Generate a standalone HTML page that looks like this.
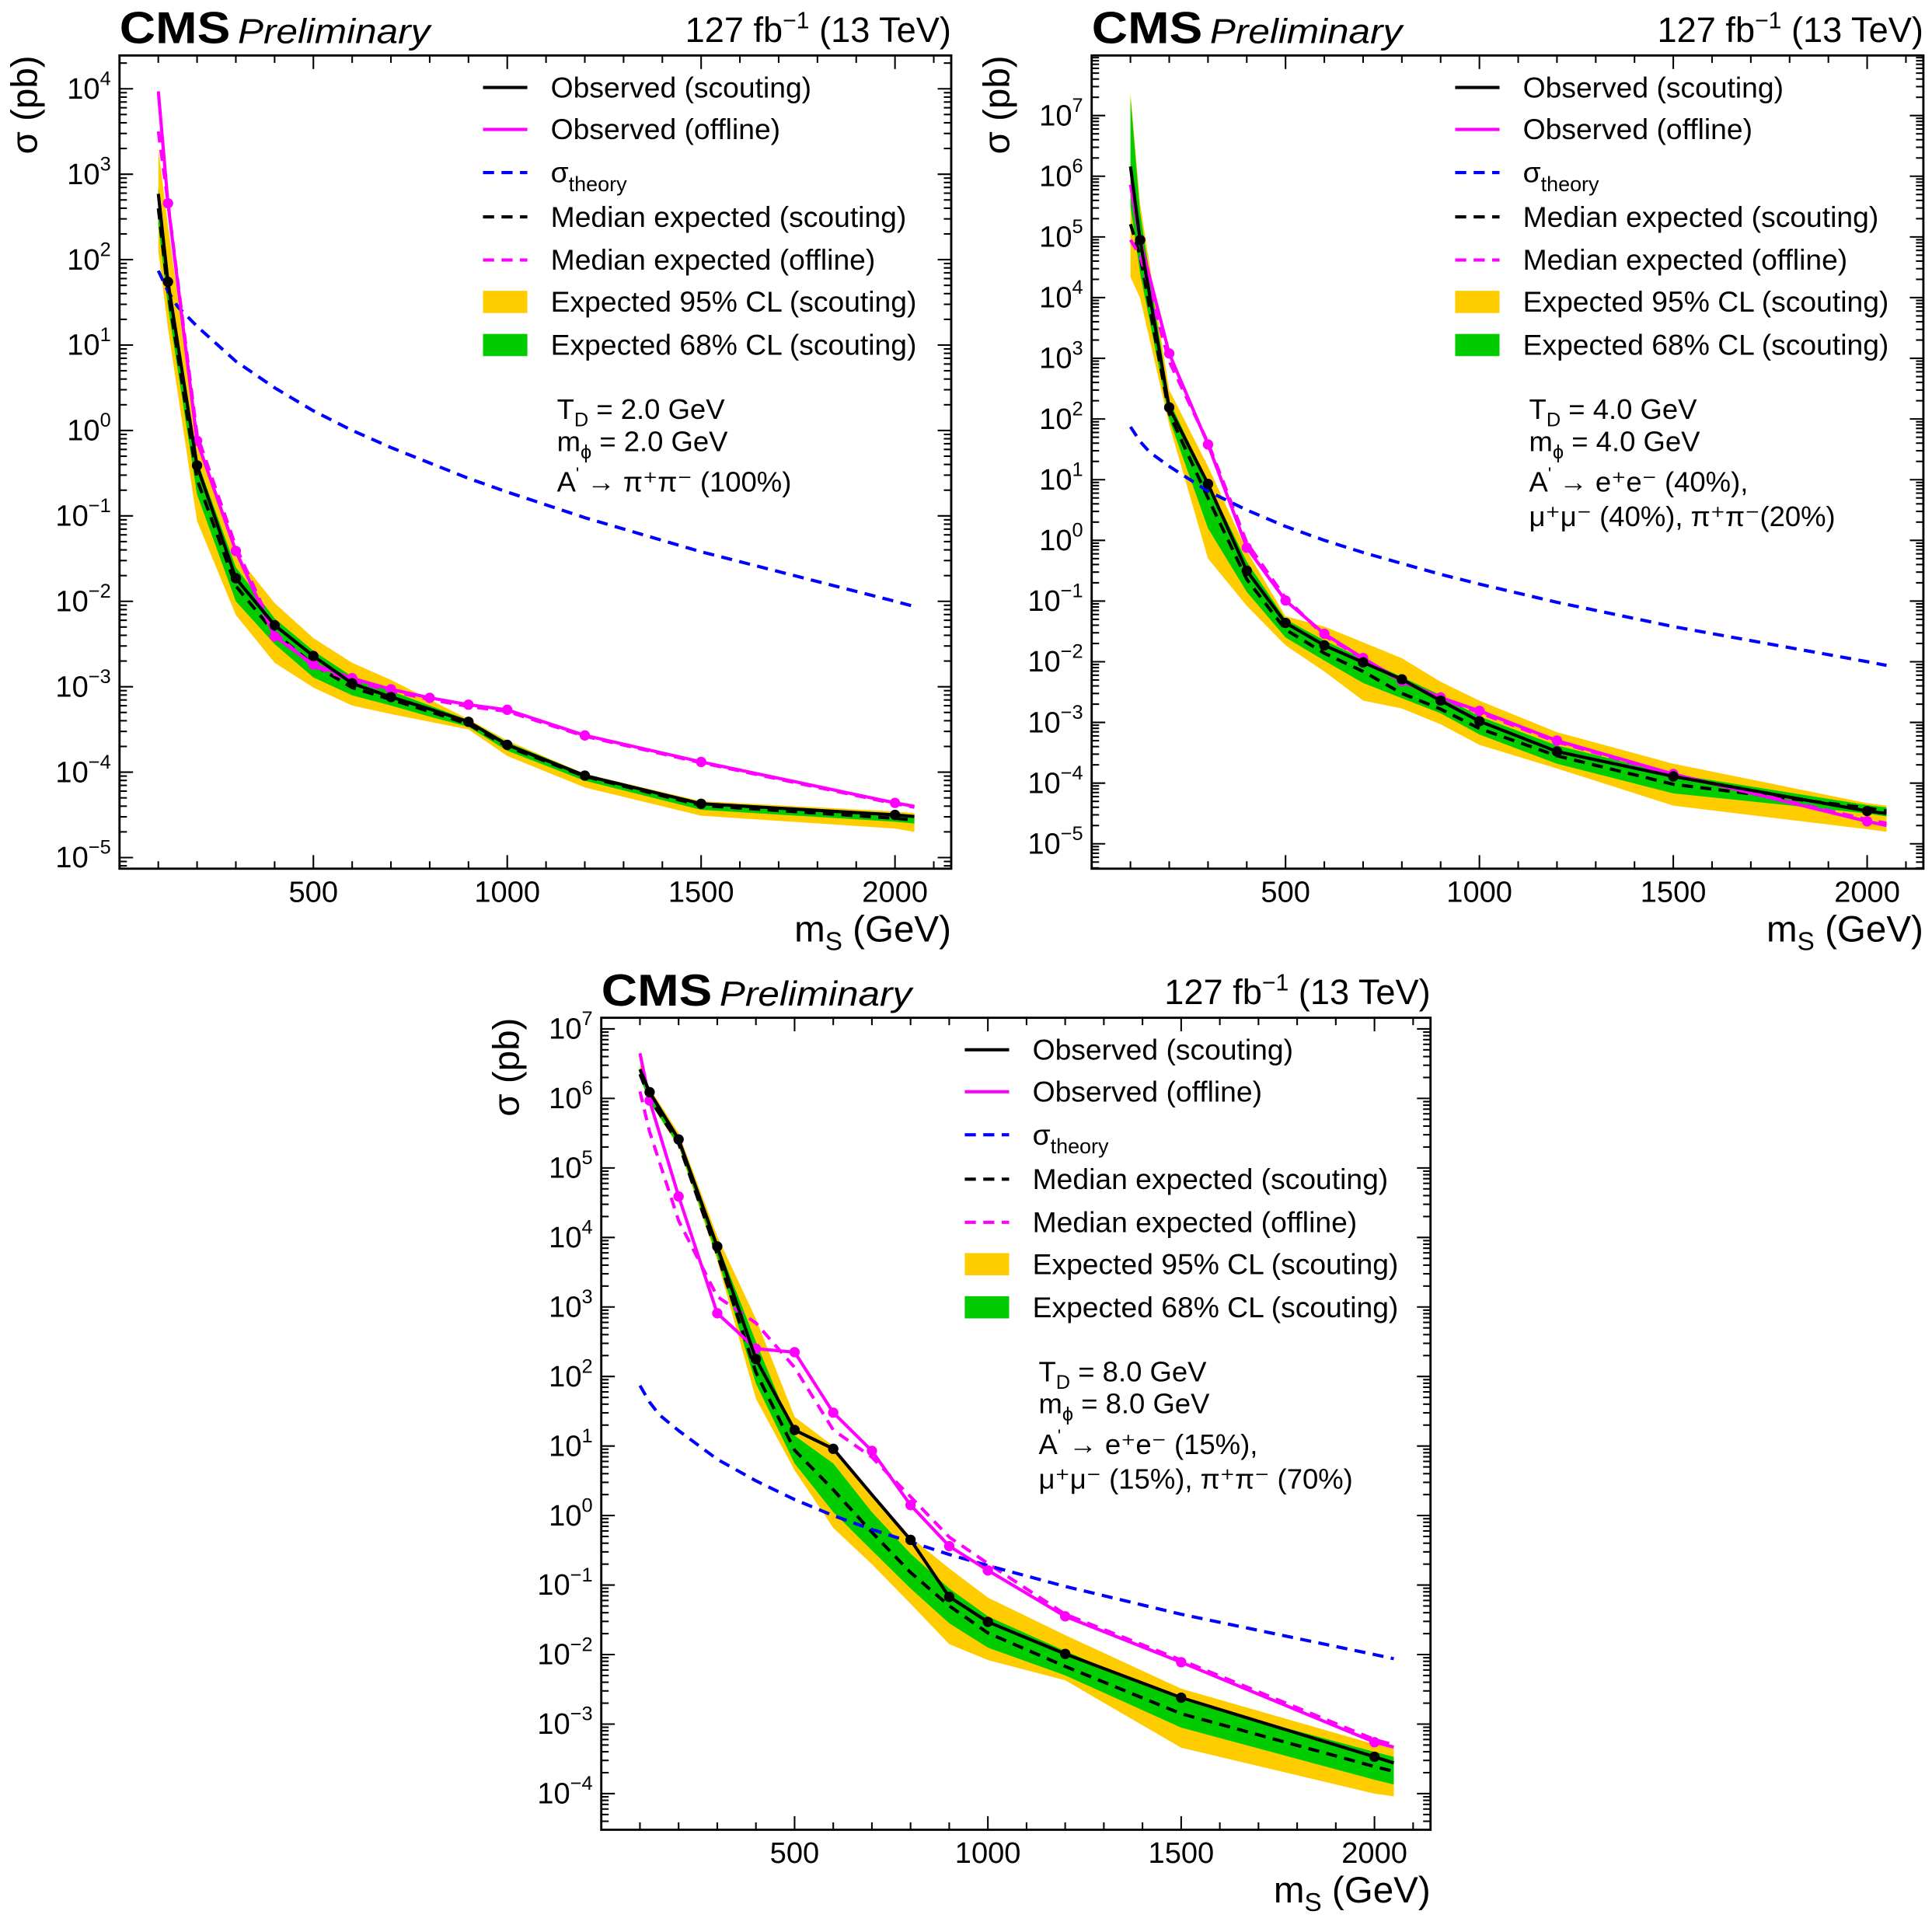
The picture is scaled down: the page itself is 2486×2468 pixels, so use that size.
<!DOCTYPE html>
<html><head><meta charset="utf-8">
<style>
html,body{margin:0;padding:0;background:#fff;}
svg{display:block;font-family:"Liberation Sans",sans-serif;}
</style></head>
<body>
<svg id="fig" width="2486" height="2468" viewBox="0 0 1568 1556.6" xmlns="http://www.w3.org/2000/svg"></svg>
<script>
// masses (GeV)
const masses = [100,125,200,300,400,500,600,700,800,900,1000,1200,1500,2000,2050];
// theory cross section (log10 pb)
const theoryMass = [100,125,150,200,300,400,500,600,700,800,900,1000,1200,1500,2000,2050];
const theoryLog = [1.87,1.63,1.45,1.22,0.81,0.50,0.23,0.0,-0.20,-0.38,-0.56,-0.72,-1.02,-1.42,-2.0,-2.06];

// Panel 1 (T_D=2) values, log10(sigma/pb)
const p1ObsScout = [2.77,1.74,-0.41,-1.73,-2.28,-2.64,-2.96,-3.12,-3.26,-3.41,-3.68,-4.04,-4.37,-4.50,-4.52];
const p1ObsOff = [3.97,2.66,-0.12,-1.41,-2.41,-2.74,-2.90,-3.03,-3.13,-3.21,-3.27,-3.57,-3.88,-4.36,-4.40];
const p1ExpScout = [2.6,1.63,-0.57,-1.82,-2.37,-2.74,-3.01,-3.15,-3.29,-3.44,-3.70,-4.05,-4.39,-4.54,-4.56];
const p1ExpOff = [3.5,2.67,-0.05,-1.36,-2.37,-2.76,-2.93,-3.05,-3.15,-3.23,-3.29,-3.58,-3.89,-4.37,-4.41];
const p1Up95 = [3.3,2.4,-0.05,-1.45,-2.02,-2.43,-2.72,-2.92,-3.15,-3.38,-3.63,-4.02,-4.34,-4.46,-4.48];
const p1Lo95 = [2.1,1.2,-1.06,-2.16,-2.72,-3.01,-3.22,-3.32,-3.41,-3.5,-3.81,-4.18,-4.51,-4.66,-4.70];
const p1Up68 = [2.85,1.85,-0.35,-1.6,-2.2,-2.58,-2.88,-3.05,-3.22,-3.39,-3.65,-4.02,-4.36,-4.49,-4.51];
const p1Lo68 = [2.4,1.45,-0.75,-2.0,-2.5,-2.89,-3.1,-3.22,-3.35,-3.47,-3.75,-4.1,-4.44,-4.58,-4.6];

// Panel 2 (T_D=4)
const p2ObsScout = [6.16,4.95,2.19,0.93,-0.50,-1.36,-1.73,-2.01,-2.29,-2.64,-2.98,-3.48,-3.89,-4.46,-4.50];
const p2ObsOff = [5.86,4.95,3.08,1.58,-0.12,-0.99,-1.54,-1.94,-2.32,-2.59,-2.81,-3.30,-3.85,-4.63,-4.70];
const p2ExpScout = [5.21,4.69,2.09,0.70,-0.64,-1.47,-1.86,-2.16,-2.52,-2.78,-3.10,-3.55,-4.02,-4.41,-4.46];
const p2ExpOff = [4.95,4.69,2.95,1.61,-0.04,-0.95,-1.57,-1.95,-2.33,-2.6,-2.84,-3.32,-3.86,-4.6,-4.66];
const p2Up95 = [7.37,5.55,2.48,1.22,-0.17,-1.25,-1.42,-1.68,-1.94,-2.33,-2.64,-3.16,-3.68,-4.33,-4.37];
const p2Lo95 = [4.34,3.99,1.91,-0.30,-1.08,-1.73,-2.16,-2.64,-2.77,-3.03,-3.37,-3.76,-4.37,-4.76,-4.80];
const p2Up68 = [7.3,5.4,2.3,0.95,-0.35,-1.3,-1.65,-1.95,-2.25,-2.55,-2.9,-3.38,-3.85,-4.36,-4.4];
const p2Lo68 = [5.5,4.4,2.0,0.2,-0.85,-1.6,-1.98,-2.35,-2.6,-2.85,-3.2,-3.68,-4.17,-4.5,-4.55];

// Panel 3 (T_D=8)
const p3ObsScout = [6.42,6.09,5.41,3.87,2.25,1.23,0.96,0.30,-0.35,-1.17,-1.53,-1.99,-2.62,-3.47,-3.56];
const p3ObsOff = [6.65,5.97,4.59,2.91,2.40,2.35,1.48,0.93,0.15,-0.44,-0.79,-1.45,-2.11,-3.26,-3.33];
const p3ExpScout = [6.35,6.0,5.35,3.76,2.06,0.94,0.37,-0.24,-0.82,-1.30,-1.69,-2.17,-2.85,-3.61,-3.68];
const p3ExpOff = [6.1,5.52,4.24,3.15,2.77,2.13,1.23,0.84,0.27,-0.31,-0.69,-1.42,-2.08,-3.22,-3.3];
const p3Up95 = [6.5,6.15,5.5,4.02,2.83,1.42,1.0,0.27,-0.31,-0.76,-1.18,-1.72,-2.49,-3.29,-3.33];
const p3Lo95 = [6.3,5.95,5.3,3.67,1.68,0.65,-0.18,-0.70,-1.27,-1.85,-2.08,-2.37,-3.34,-4.0,-4.04];
const p3Up68 = [6.45,6.12,5.45,3.92,2.5,1.15,0.75,0.05,-0.55,-1.05,-1.45,-1.95,-2.65,-3.4,-3.47];
const p3Lo68 = [6.3,5.95,5.32,3.72,1.9,0.75,0.05,-0.5,-1.05,-1.55,-1.9,-2.3,-3.05,-3.8,-3.87];

const xTicks = [500,1000,1500,2000];

const NS = "http://www.w3.org/2000/svg";
const svg = document.getElementById('fig');
function el(tag, attrs, parent){
  const e = document.createElementNS(NS, tag);
  for (const k in attrs) e.setAttribute(k, attrs[k]);
  (parent||svg).appendChild(e);
  return e;
}

const panels = [
  {id:'p1', L:97, T:45, W:675, H:660, yTop:4.39, yBot:-5.13, decMin:-5, decMax:4,
   obsS:p1ObsScout, obsO:p1ObsOff, expS:p1ExpScout, expO:p1ExpOff, up95:p1Up95, lo95:p1Lo95, up68:p1Up68, lo68:p1Lo68,
   skipBlack:[8], td:'2.0', ann:3},
  {id:'p2', L:886, T:45, W:675, H:660, yTop:7.99, yBot:-5.41, decMin:-5, decMax:7,
   obsS:p2ObsScout, obsO:p2ObsOff, expS:p2ExpScout, expO:p2ExpOff, up95:p2Up95, lo95:p2Lo95, up68:p2Up68, lo68:p2Lo68,
   skipBlack:[], td:'4.0', ann:4, br:['40%','40%','20%']},
  {id:'p3', L:488, T:826, W:673, H:659, yTop:7.16, yBot:-4.52, decMin:-4, decMax:7,
   obsS:p3ObsScout, obsO:p3ObsOff, expS:p3ExpScout, expO:p3ExpOff, up95:p3Up95, lo95:p3Lo95, up68:p3Up68, lo68:p3Lo68,
   skipBlack:[7], td:'8.0', ann:4, br:['15%','15%','70%']}
];

panels.forEach((p, pi) => {
  const g = el('g', {});
  
  
  const xmax = 2145;
  const X = m => p.L + m / xmax * p.W;
  const Y = v => p.T + (p.yTop - v) / (p.yTop - p.yBot) * p.H;
  const defs = el('defs', {}, g);
  const cp = el('clipPath', {id:'clip'+pi}, defs);
  el('rect', {x:p.L, y:p.T, width:p.W, height:p.H}, cp);
  const plot = el('g', {'clip-path':'url(#clip'+pi+')'}, g);

  function band(up, lo, color){
    let d = masses.map((m,i)=>(i?'L':'M')+X(m).toFixed(1)+','+Y(up[i]).toFixed(1)).join(' ');
    for (let i=masses.length-1;i>=0;i--) d += ' L'+X(masses[i]).toFixed(1)+','+Y(lo[i]).toFixed(1);
    const e = el('path', {d:d+' Z', fill:color, stroke:'none'}, plot);
    
    
  }
  band(p.up95, p.lo95, '#ffcc00');
  band(p.up68, p.lo68, '#00cc00');
  function line(ms, vals, color, dash){
    const d = ms.map((m,i)=>(i?'L':'M')+X(m).toFixed(1)+','+Y(vals[i]).toFixed(1)).join(' ');
    const e = el('path', {d:d, fill:'none', stroke:color, 'stroke-width':2.6, 'stroke-dasharray':dash||'none', 'stroke-linejoin':'round'}, plot);
    
    
  }
  line(masses, p.expS, '#000', '9,6');
  line(masses, p.expO, '#ff00ff', '9,6');
  line(theoryMass, theoryLog, '#0000ff', '9,6');
  line(masses, p.obsO, '#ff00ff', null);
  masses.forEach((m,i)=>{ if(i>0 && i<masses.length-1){
    const c = el('circle', {cx:X(m), cy:Y(p.obsO[i]), r:4.2, fill:'#ff00ff'}, plot);
    
    
  }});
  line(masses, p.obsS, '#000', null);
  masses.forEach((m,i)=>{ if(i>0 && i<masses.length-1 && p.skipBlack.indexOf(i)<0){
    const c = el('circle', {cx:X(m), cy:Y(p.obsS[i]), r:4.2, fill:'#000'}, plot);
    
    
  }});

  el('rect', {x:p.L, y:p.T, width:p.W, height:p.H, fill:'none', stroke:'#000', 'stroke-width':1.8}, g);
  for (let m=100; m<=2100; m+=100){
    const maj = m % 500 === 0; const len = maj?11:6;
    el('line', {x1:X(m), x2:X(m), y1:p.T+p.H, y2:p.T+p.H-len, stroke:'#000','stroke-width':1.3}, g);
    el('line', {x1:X(m), x2:X(m), y1:p.T, y2:p.T+len, stroke:'#000','stroke-width':1.3}, g);
  }
  xTicks.forEach(m=>{
    const t = el('text', {x:X(m), y:p.T+p.H+27, 'text-anchor':'middle', 'font-size':24}, g);
    t.textContent = m;
    
    
  });
  for (let d=Math.floor(p.yBot); d<=Math.ceil(p.yTop); d++){
    for (let k=1;k<10;k++){
      const v = d + Math.log10(k);
      if (v < p.yBot || v > p.yTop) continue;
      const len = k===1?11:6; const y = Y(v);
      el('line', {x1:p.L, x2:p.L+len, y1:y, y2:y, stroke:'#000','stroke-width':1.3}, g);
      el('line', {x1:p.L+p.W, x2:p.L+p.W-len, y1:y, y2:y, stroke:'#000','stroke-width':1.3}, g);
    }
  }
  for (let d=p.decMin; d<=p.decMax; d++){
    const t = el('text', {x:p.L-7, y:Y(d)+8, 'text-anchor':'end', 'font-size':24}, g);
    
    
    const a = el('tspan', {}, t); a.textContent = '10';
    const b = el('tspan', {dy:-11, 'font-size':16}, t); b.textContent = d<0 ? '\u2212'+(-d) : String(d);
  }
  const yt = el('text', {transform:'translate('+(p.L-67)+','+p.T+') rotate(-90)', 'text-anchor':'end', 'font-size':30}, g);
  yt.textContent = 'σ (pb)';
  
  
  const xt = el('text', {x:p.L+p.W, y:p.T+p.H+59, 'text-anchor':'end', 'font-size':30}, g);
  
  
  el('tspan', {}, xt).textContent = 'm';
  el('tspan', {dy:7, 'font-size':21}, xt).textContent = 'S';
  el('tspan', {dy:-7}, xt).textContent = ' (GeV)';
  const cms = el('text', {x:p.L, y:p.T-10, 'font-size':36, 'font-weight':'bold', textLength:90, lengthAdjust:'spacingAndGlyphs'}, g);
  cms.textContent = 'CMS';
  
  
  const pre = el('text', {x:p.L+96, y:p.T-10, 'font-size':28, 'font-style':'italic', textLength:156, lengthAdjust:'spacingAndGlyphs'}, g);
  pre.textContent = 'Preliminary';
  
  
  const lumi = el('text', {x:p.L+p.W, y:p.T-11, 'text-anchor':'end', 'font-size':28.5}, g);
  
  
  el('tspan', {}, lumi).textContent = '127 fb';
  el('tspan', {dy:-11, 'font-size':19}, lumi).textContent = '\u22121';
  el('tspan', {dy:11}, lumi).textContent = ' (13 TeV)';

  const lg = el('g', {}, g);
  
  
  const entries = [
    ['line','#000',null,'Observed (scouting)'],
    ['line','#ff00ff',null,'Observed (offline)'],
    ['line','#0000ff','9,6','theory'],
    ['line','#000','9,6','Median expected (scouting)'],
    ['line','#ff00ff','9,6','Median expected (offline)'],
    ['rect','#ffcc00',null,'Expected 95% CL (scouting)'],
    ['rect','#00cc00',null,'Expected 68% CL (scouting)']
  ];
  const offs = [26,60,95,131,166,200,235];
  entries.forEach((e,i)=>{
    const y = p.T + offs[i];
    const x0 = p.L + 295;
    if (e[0]==='line') el('line', {x1:x0, x2:x0+36, y1:y, y2:y, stroke:e[1], 'stroke-width':2.6, 'stroke-dasharray':e[2]||'none'}, lg);
    else el('rect', {x:x0, y:y-9, width:36, height:18, fill:e[1]}, lg);
    const t = el('text', {x:p.L+350, y:y+8, 'font-size':23.5}, lg);
    
    
    if (e[3]==='theory'){
      el('tspan', {}, t).textContent = 'σ';
      el('tspan', {dy:7, 'font-size':17}, t).textContent = 'theory';
    } else t.textContent = e[3];
  });

  const an = el('g', {}, g);
  
  
  const ax = p.L + 355;
  const t1 = el('text', {x:ax, y:p.T+295, 'font-size':23}, an);
  el('tspan', {}, t1).textContent = 'T';
  el('tspan', {dy:6, 'font-size':16}, t1).textContent = 'D';
  el('tspan', {dy:-6}, t1).textContent = ' = '+p.td+' GeV';
  const t2 = el('text', {x:ax, y:p.T+321, 'font-size':23}, an);
  el('tspan', {}, t2).textContent = 'm';
  el('tspan', {dy:6, 'font-size':16}, t2).textContent = 'ϕ';
  el('tspan', {dy:-6}, t2).textContent = ' = '+p.td+' GeV';
  const t3 = el('text', {x:ax, y:p.T+354, 'font-size':23}, an);
  el('tspan', {}, t3).textContent = 'A';
  el('tspan', {dy:-10, 'font-size':14}, t3).textContent = "'";
  if (p.ann===3){
    el('tspan', {dy:10}, t3).textContent = ' → π⁺π⁻ (100%)';
  } else {
    el('tspan', {dy:10}, t3).textContent = ' → e⁺e⁻ ('+p.br[0]+'),';
    const t4 = el('text', {x:ax, y:p.T+382, 'font-size':23}, an);
    t4.textContent = 'μ⁺μ⁻ ('+p.br[1]+'), π⁺π⁻'+(pi===1?'':' ')+'('+p.br[2]+')';
  }
});
</script>
</body></html>
